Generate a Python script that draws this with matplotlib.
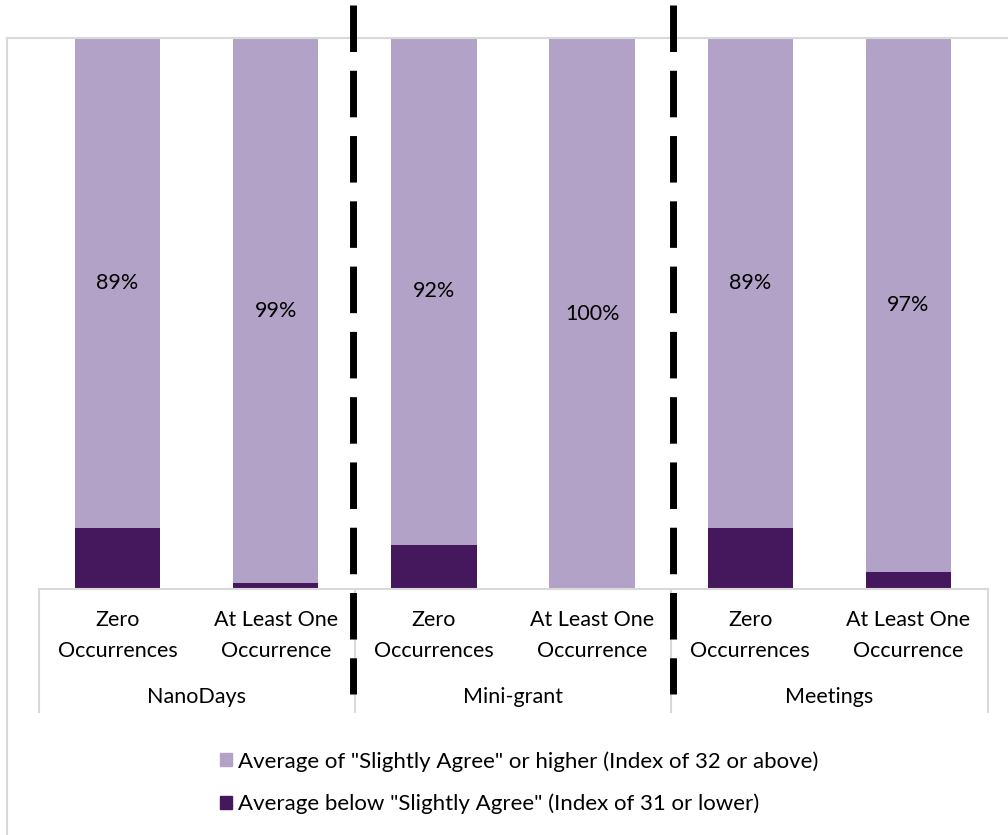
import matplotlib.pyplot as plt
from matplotlib.lines import Line2D
from matplotlib.patches import Patch

# values (percent of respondents)
categories = ['Zero\nOccurrences', 'At Least One\nOccurrence',
              'Zero\nOccurrences', 'At Least One\nOccurrence',
              'Zero\nOccurrences', 'At Least One\nOccurrence']
groups = ['NanoDays', 'Mini-grant', 'Meetings']
agree_high = [89, 99, 92, 100, 89, 97]
agree_low = [11, 1, 8, 0, 11, 3]
label_high = 'Average of "Slightly Agree" or higher (Index of 32 or above)'
label_low = 'Average below "Slightly Agree" (Index of 31 or lower)'

light = '#B3A2C7'
dark = '#45175D'
grid_grey = '#D9D9D9'

plt.rcParams['font.family'] = ['Lato', 'DejaVu Sans']

W, H = 1008, 835
fig = plt.figure(figsize=(W / 100, H / 100), dpi=100)

# plot area in pixel terms
left_px, right_px, top_px, base_px = 38.5, 987.5, 38, 589
ax = fig.add_axes([left_px / W, (H - base_px) / H,
                   (right_px - left_px) / W, (base_px - top_px) / H])

x = list(range(len(categories)))
ax.bar(x, agree_low, width=0.54, color=dark, label=label_low)
ax.bar(x, agree_high, width=0.54, bottom=agree_low, color=light, label=label_high)

for xi, lo, hi in zip(x, agree_low, agree_high):
    ax.text(xi, lo + hi / 2, f'{hi}%', ha='center', va='center', fontsize=15.5, color='black')

ax.set_xlim(-0.5, 5.5)
ax.set_ylim(0, 100)
ax.set_yticks([])
for s in ['top', 'left', 'right']:
    ax.spines[s].set_visible(False)
ax.spines['bottom'].set_color(grid_grey)
ax.spines['bottom'].set_linewidth(1.5)

ax.set_xticks(x)
ax.set_xticklabels(categories, fontsize=15.5, linespacing=1.7)
ax.tick_params(axis='x', length=0, pad=15)

# group labels and separators of the two-level category axis
trans = ax.get_xaxis_transform()
sep_bottom = -(712 - base_px) / (base_px - top_px)
for i, g in enumerate(groups):
    ax.text(2 * i + 0.5, -(697 - base_px) / (base_px - top_px), g, transform=trans,
            ha='center', va='center', fontsize=15.5)
for xs in [-0.5, 1.5, 3.5, 5.5]:
    ax.plot([xs, xs], [0, sep_bottom], transform=trans, color=grid_grey, lw=1.5, clip_on=False)

# chart frame (top and left edges visible)
fig.add_artist(Line2D([7 / W, 1], [1 - 38 / H, 1 - 38 / H], color=grid_grey, lw=1.5))
fig.add_artist(Line2D([7 / W, 7 / W], [1 - 38 / H, 0], color=grid_grey, lw=1.5))

# black dashed dividers between the groups
for xp in [352.5, 673]:
    fig.add_artist(Line2D([xp / W, xp / W], [1 - 5 / H, 1 - 694 / H], color='black',
                          lw=5, linestyle=(0, (6.7, 2.7)), solid_capstyle='butt',
                          dash_capstyle='butt'))

handles = [Patch(color=light), Patch(color=dark)]
fig.legend(handles, [label_high, label_low], loc='upper left',
           bbox_to_anchor=(200 / W, 1 - 731 / H), frameon=False, fontsize=16,
           handlelength=0.55, handleheight=0.55, handletextpad=0.25, labelspacing=1.0)

fig.savefig('out.png', dpi=100)
